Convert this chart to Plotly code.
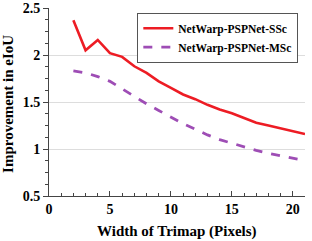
import plotly.graph_objects as go

x_vals = list(range(2, 22))
ssc = [2.37, 2.05, 2.16, 2.02, 1.98, 1.88, 1.81, 1.72, 1.65, 1.58, 1.53, 1.47, 1.42, 1.38, 1.33, 1.28, 1.25, 1.22, 1.19, 1.16]
msc = [1.83, 1.81, 1.77, 1.72, 1.64, 1.56, 1.48, 1.41, 1.34, 1.27, 1.21, 1.15, 1.10, 1.06, 1.02, 0.985, 0.955, 0.93, 0.90, 0.875]
series_names = ["NetWarp-PSPNet-SSc", "NetWarp-PSPNet-MSc"]
x_ticks = [0, 5, 10, 15, 20]
y_ticks = [0.5, 1, 1.5, 2, 2.5]
y_labels = ["0.5", "1", "1.5", "2", "2.5"]
x_title = "Width of Trimap (Pixels)"
y_title = "Improvement in eIoU"

font_family = "Liberation Serif"
bold = dict(family=font_family, color="black", weight="bold")

fig = go.Figure()
fig.add_trace(go.Scatter(x=x_vals, y=ssc, mode="lines", name=series_names[0],
                         line=dict(color="#ED1C24", width=2.6)))
fig.add_trace(go.Scatter(x=x_vals, y=msc, mode="lines", name=series_names[1],
                         line=dict(color="#9E4DB5", width=2.8, dash="dash")))

fig.update_layout(
    width=312, height=241,
    margin=dict(l=49, r=7, t=8, b=45, autoexpand=False),
    paper_bgcolor="white", plot_bgcolor="white",
    font=dict(family=font_family, size=12, color="black"),
    showlegend=True,
    legend=dict(x=0.345, y=0.975, xanchor="left", yanchor="top",
                bgcolor="white", bordercolor="#555555", borderwidth=1,
                font=dict(size=11.5, **bold),
                tracegroupgap=0, itemwidth=30),
    annotations=[
        dict(text=x_title, xref="paper", yref="paper", x=0.5, y=-0.19,
             xanchor="center", yanchor="middle", showarrow=False,
             font=dict(size=15, **bold)),
        dict(text=y_title, xref="paper", yref="paper", x=-0.16, y=0.49,
             xanchor="center", yanchor="middle", showarrow=False, textangle=-90,
             font=dict(size=15, **bold)),
    ],
)
fig.update_xaxes(
    range=[0, 21], tickvals=x_ticks, ticktext=[str(v) for v in x_ticks],
    showline=True, linecolor="#444444", linewidth=1, automargin=False,
    ticks="inside", ticklen=5, tickcolor="#444444",
    minor=dict(dtick=1, ticks="inside", ticklen=3, tickcolor="#444444"),
    showgrid=False, zeroline=False,
    tickfont=dict(size=14, **bold),
)
fig.update_yaxes(
    range=[0.5, 2.5], tickvals=y_ticks, ticktext=y_labels,
    showline=True, linecolor="#444444", linewidth=1, automargin=False,
    ticks="outside", ticklen=5, tickcolor="#444444",
    minor=dict(dtick=0.125, ticks="outside", ticklen=3, tickcolor="#444444", showgrid=False),
    showgrid=True, gridcolor="#DDDDDD", gridwidth=1, zeroline=False,
    tickfont=dict(size=14, **bold),
)

fig.write_html("out.html", config={"displayModeBar": False},
               post_script="document.body.style.margin='0';")
